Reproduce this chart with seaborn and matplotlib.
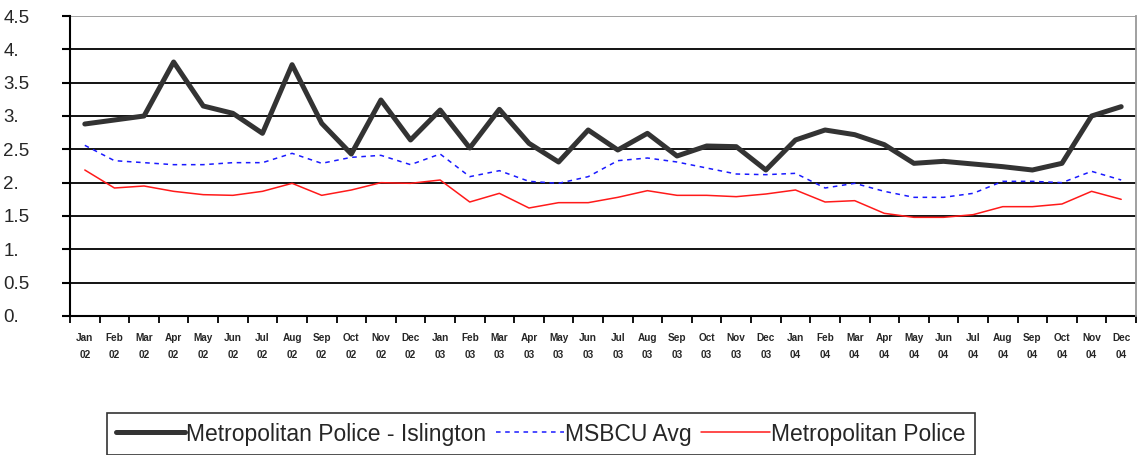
import matplotlib
matplotlib.use("Agg")
import matplotlib.pyplot as plt
import seaborn as sns
import pandas as pd
import numpy as np
from matplotlib.lines import Line2D

months = ["Jan", "Feb", "Mar", "Apr", "May", "Jun", "Jul", "Aug", "Sep", "Oct", "Nov", "Dec"]
years = ["02", "03", "04"]
categories = [f"{m}\n{y}" for y in years for m in months]

islington = [2.88, 2.94, 3.0, 3.81, 3.15, 3.04, 2.74, 3.77, 2.89, 2.43, 3.24, 2.64,
             3.09, 2.52, 3.10, 2.59, 2.31, 2.79, 2.49, 2.74, 2.40, 2.55, 2.54, 2.19,
             2.64, 2.79, 2.72, 2.57, 2.29, 2.32, 2.28, 2.24, 2.19, 2.29, 3.00, 3.14]
msbcu = [2.56, 2.33, 2.30, 2.27, 2.27, 2.30, 2.30, 2.44, 2.29, 2.38, 2.41, 2.27,
         2.43, 2.09, 2.18, 2.02, 1.99, 2.09, 2.33, 2.37, 2.31, 2.22, 2.13, 2.12,
         2.14, 1.92, 1.99, 1.87, 1.78, 1.78, 1.84, 2.02, 2.02, 2.00, 2.17, 2.04]
met = [2.19, 1.92, 1.95, 1.87, 1.82, 1.81, 1.87, 1.99, 1.81, 1.89, 2.00, 1.99,
       2.04, 1.71, 1.84, 1.62, 1.70, 1.70, 1.78, 1.88, 1.81, 1.81, 1.79, 1.83,
       1.89, 1.71, 1.73, 1.54, 1.48, 1.48, 1.52, 1.64, 1.64, 1.68, 1.87, 1.75]
series_names = ["Metropolitan Police - Islington", "MSBCU Avg", "Metropolitan Police"]
y_ticks = [0, 0.5, 1, 1.5, 2, 2.5, 3, 3.5, 4, 4.5]
y_tick_labels = ["0.", "0.5", "1.", "1.5", "2.", "2.5", "3.", "3.5", "4.", "4.5"]

n = len(categories)
df = pd.DataFrame({
    "x": list(range(n)) * 3,
    "value": islington + msbcu + met,
    "series": [series_names[0]] * n + [series_names[1]] * n + [series_names[2]] * n,
})

sns.set_style("white")
plt.rcParams["font.family"] = ["Liberation Sans", "DejaVu Sans"]

fig = plt.figure(figsize=(11.38, 4.55), dpi=100)
ax = fig.add_axes([70 / 1138, 1 - 316 / 455, (1136 - 70) / 1138, 300 / 455])

palette = {series_names[0]: "#333333", series_names[1]: "#1a1aff", series_names[2]: "#ff1a1a"}
sizes = {series_names[0]: 3.6, series_names[1]: 1.1, series_names[2]: 1.1}
sns.lineplot(data=df, x="x", y="value", hue="series", size="series", sizes=sizes,
             palette=palette, ax=ax, legend=False, sort=False)
lines = ax.get_lines()
lines[1].set_linestyle((0, (3, 3)))

ax.set_xlim(-0.5, n - 0.5)
ax.set_ylim(0, 4.5)
for yv in y_ticks[1:]:
    ax.axhline(yv, color="#000000" if yv < 4.5 else "#999999", lw=1.3, zorder=0)

ax.set_yticks(y_ticks)
ax.set_yticklabels(y_tick_labels, fontsize=13.5)
for lbl in ax.get_yticklabels():
    lbl.set_horizontalalignment("left")
ax.tick_params(axis="y", left=True, direction="out", length=6, width=1.5, color="black", pad=42)

ax.set_xticks(np.arange(n + 1) - 0.5, minor=False)
ax.set_xticklabels([])
ax.tick_params(axis="x", which="major", bottom=True, direction="out", length=5, width=1.3, color="black")
ax.set_xticks(np.arange(n), minor=True)
ax.set_xticklabels(categories, minor=True, fontsize=7.2, fontweight="bold", linespacing=1.9)
ax.tick_params(axis="x", which="minor", bottom=True, length=0, pad=12)

for s in ["top", "bottom"]:
    ax.spines[s].set_visible(False)
ax.axhline(0, color="black", lw=1.5, zorder=1, clip_on=False)
ax.spines["left"].set_color("black")
ax.spines["left"].set_linewidth(1.5)
ax.spines["right"].set_color("#999999")
ax.spines["right"].set_linewidth(1.3)
ax.set_xlabel("")
ax.set_ylabel("")

handles = [
    Line2D([], [], color="#333333", lw=3.6),
    Line2D([], [], color="#1a1aff", lw=1.1, linestyle=(0, (3, 3))),
    Line2D([], [], color="#ff1a1a", lw=1.1),
]
leg = fig.legend(handles, series_names, loc="center", bbox_to_anchor=(541 / 1138, 1 - 434 / 455),
                 ncol=3, frameon=True, fancybox=False, edgecolor="black",
                 handlelength=3.0, handletextpad=0.05, columnspacing=0.4, borderpad=0.4,
                 prop={"family": ["Liberation Sans", "DejaVu Sans"], "size": 16.5})
leg.get_frame().set_linewidth(1.2)

fig.savefig("out.png", dpi=100)
